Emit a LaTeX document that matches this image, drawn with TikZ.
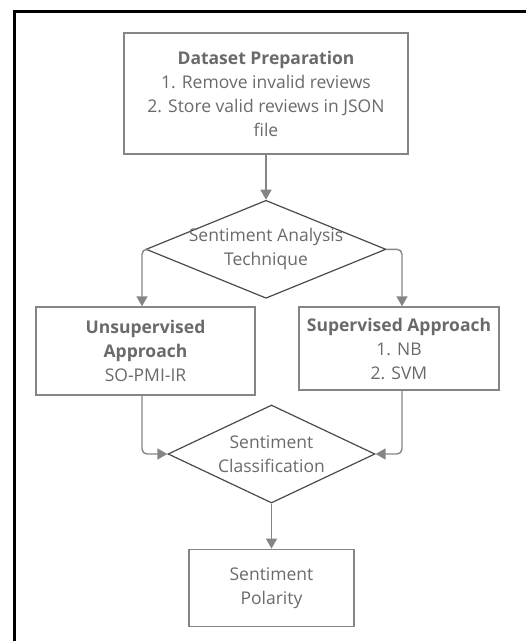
\documentclass[tikz,border=0pt]{standalone}
\usepackage{fontspec}
\setmainfont{Open Sans}
\usetikzlibrary{positioning,shapes.geometric,arrows.meta}
\definecolor{linegray}{HTML}{858585}
\definecolor{edgegray}{HTML}{4A4A4A}
\definecolor{textgray}{HTML}{6A6A6A}
\begin{document}
\begin{tikzpicture}[x=1pt,y=-1pt]
		% formatos
		\tikzstyle{box} = [draw=linegray, line width=1.4pt, rectangle, align=center, text=textgray, inner sep=0pt, font=\fontsize{17.5}{24}\selectfont]
		\tikzstyle{decision} = [draw=edgegray, line width=1.2pt, diamond, inner sep=0pt]
		\tikzstyle{label} = [align=center, text=textgray, font=\fontsize{17.5}{24}\selectfont]
		\tikzstyle{arrow} = [-{Triangle[width=11pt,length=10pt]}, draw=linegray, line width=1.4pt, rounded corners=5pt]
		\useasboundingbox (0,0) rectangle (526,641);
		% marco
		\draw [line width=3pt] (14.5,641) -- (14.5,11.5) -- (526,11.5);
		% nodos
		\node [box, minimum width=284pt, minimum height=121pt] (dp) at (266,93.5)
{{\bfseries Dataset Preparation}\\1. Remove invalid reviews\\2. Store valid reviews in JSON\\file};
		\node [decision, minimum width=240pt, minimum height=98pt] (sat)	[below=45pt of dp]	{};
		\node [label] (sat-txt) at (sat) {Sentiment Analysis\\Technique};
		\node [box, minimum width=219pt, minimum height=88pt] (unsup) at (145.5,351)
{{\bfseries Unsupervised}\\{\bfseries Approach}\\SO-PMI-IR};
		\node [box, minimum width=200pt, minimum height=83pt] (sup) at (399,348.5)
{{\bfseries Supervised Approach}\\1. NB\\2. SVM};
		\node [decision, minimum width=207pt, minimum height=98pt] (sc) at (271.5,454) {};
		\node [label] (sc-txt) at (sc) {Sentiment\\Classification};
		\node [box, minimum width=165pt, minimum height=77pt] (pol)	[below=45pt of sc]	{Sentiment\\Polarity};
		% relaciones
		\draw [arrow] (dp) -- (sat);
		\draw [arrow] (sat.west) -| ([xshift=-3.5pt]unsup.north);
		\draw [arrow] (sat.east) -| ([xshift=3pt]sup.north);
		\draw [arrow] ([xshift=-3.5pt]unsup.south) |- (sc.west);
		\draw [arrow] ([xshift=3pt]sup.south) |- (sc.east);
		\draw [arrow] (sc) -- (pol);
	\end{tikzpicture}
\end{document}
